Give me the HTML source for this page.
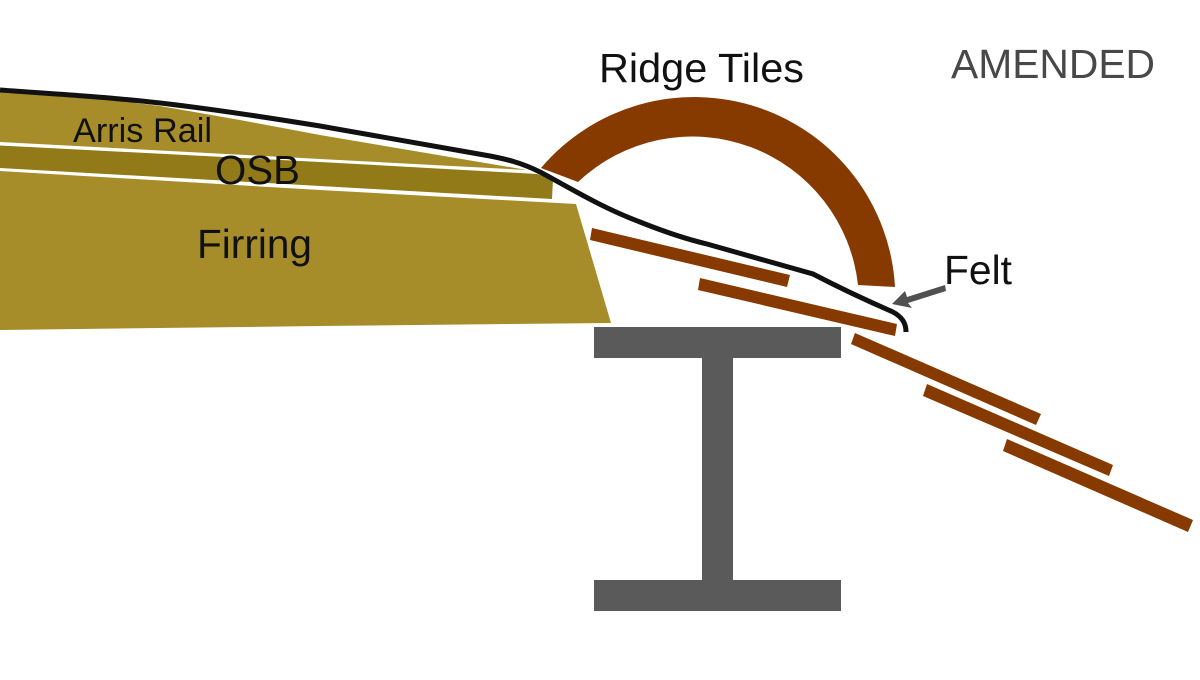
<!DOCTYPE html>
<html><head><meta charset="utf-8"><style>
html,body{margin:0;padding:0;background:#fff;width:1200px;height:680px;overflow:hidden}
svg{display:block}
text{font-family:"Liberation Sans",Arial,sans-serif;fill:#111}
</style></head><body>
<svg width="1200" height="680" viewBox="0 0 1200 680" xmlns="http://www.w3.org/2000/svg">
<rect width="1200" height="680" fill="#fff"/>
<!-- timber -->
<polygon points="0,92 120,101 160,106 240,120 320,135 527,170 320,159 0,142" fill="#a68d2a"/>
<polygon points="0,145.500 320,162 537,174 553,179 552,199 320,186 0,168" fill="#917a17"/>
<polygon points="0,171 320,190 576,204 611,323 320,326 0,330" fill="#a68d2a"/>
<!-- ridge tile -->
<path d="M541,168 A201,201 0 0 1 895,287 L858,285 A166.6,166.6 0 0 0 578,182 Z" fill="#873a00"/>
<!-- planks -->
<g fill="#873a00">
<polygon points="592,228 790,275 787,287 590,240"/>
<polygon points="700,278 897,324 895,336 698,290"/>
<polygon points="855,333 1041,414 1036,425 851,344"/>
<polygon points="927,384 1113,465 1109,476 923,396"/>
<polygon points="1007,439 1193,520 1188,532 1003,451"/>
</g>
<!-- I beam -->
<g fill="#5a5a5a">
<rect x="594" y="327" width="247" height="31"/>
<rect x="702" y="358" width="31" height="222"/>
<rect x="594" y="580" width="247" height="31"/>
</g>
<!-- felt -->
<path d="M0,90 C40,93 90,96 120,99 C170,103 240,113 320,126 C380,137 440,147 490,156 C505,159 520,162 540,172 C565,185 600,207 640,222 C665,232 690,240 707,244 L813,274 C840,288 870,302 893,312 C902,317 906,323 906,332" fill="none" stroke="#111" stroke-width="5"/>
<!-- arrow -->
<polygon points="945,285 946,291 908,303 912,308 892,304 905,291 907,297" fill="#505050"/>
<!-- labels -->
<text x="599" y="82" font-size="41" textLength="205" lengthAdjust="spacingAndGlyphs">Ridge Tiles</text>
<text x="951" y="78" font-size="41" textLength="204" lengthAdjust="spacingAndGlyphs" style="fill:#484848">AMENDED</text>
<text x="944" y="284" font-size="41" textLength="68" lengthAdjust="spacingAndGlyphs">Felt</text>
<text x="197" y="258" font-size="41" textLength="115" lengthAdjust="spacingAndGlyphs">Firring</text>
<text x="215" y="184" font-size="41" textLength="85" lengthAdjust="spacingAndGlyphs">OSB</text>
<text x="73" y="142" font-size="34" textLength="139" lengthAdjust="spacingAndGlyphs">Arris Rail</text>
</svg>
</body></html>
